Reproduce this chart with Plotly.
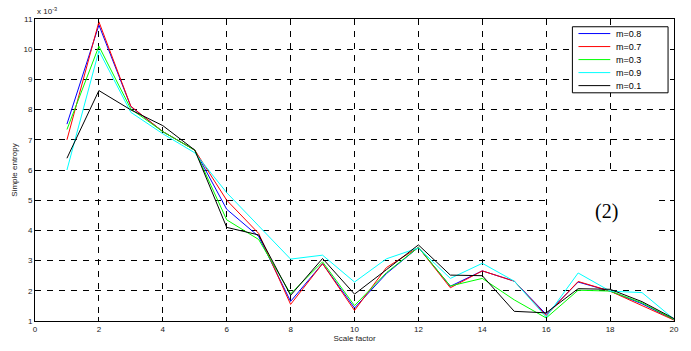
import plotly.graph_objects as go

scale = list(range(1, 21))
m08 = [7.52, 10.80, 8.10, 7.27, 6.66, 4.70, 3.80, 1.65, 2.90, 1.43, 2.57, 3.44, 2.15, 2.66, 2.32, 1.22, 2.29, 1.99, 1.57, 1.04]
m07 = [7.00, 10.91, 8.11, 7.27, 6.66, 5.00, 3.90, 1.55, 2.90, 1.35, 2.77, 3.44, 2.10, 2.66, 2.32, 1.18, 2.31, 1.99, 1.51, 1.03]
m03 = [7.34, 10.10, 8.02, 7.27, 6.66, 4.35, 3.70, 1.90, 2.96, 1.51, 2.60, 3.44, 2.16, 2.41, 1.70, 1.10, 2.02, 1.99, 1.60, 1.05]
m09 = [6.00, 9.95, 7.91, 7.20, 6.57, 5.25, 4.15, 3.05, 3.18, 2.29, 3.06, 3.42, 2.41, 2.91, 2.32, 1.13, 2.59, 1.99, 1.94, 1.06]
m01 = [6.39, 8.63, 7.99, 7.47, 6.66, 4.10, 3.85, 1.85, 3.07, 1.89, 2.70, 3.52, 2.52, 2.50, 1.32, 1.27, 2.07, 2.05, 1.64, 1.08]

series = [("m=0.8", m08, "#0000ff"), ("m=0.7", m07, "#ff0000"), ("m=0.3", m03, "#00ff00"),
          ("m=0.9", m09, "#00ffff"), ("m=0.1", m01, "#000000")]

fig = go.Figure()
for name, vals, col in series:
    fig.add_trace(go.Scatter(x=scale, y=vals, mode="lines", name=name, showlegend=False,
                             line=dict(color=col, width=1)))

tickfont = dict(family="Liberation Sans, Arial", size=8, color="#222")
axis_common = dict(showline=True, linecolor="black", linewidth=1, mirror="allticks",
                   ticks="inside", ticklen=4, tickcolor="black",
                   showgrid=True, gridcolor="black", gridwidth=1, griddash="6px,6px",
                   zeroline=False, tickfont=tickfont)

fig.update_layout(
    width=691, height=351,
    margin=dict(l=35, r=14, t=19, b=21),
    paper_bgcolor="white", plot_bgcolor="white",
    showlegend=False,
    xaxis=dict(range=[0, 20], tickvals=list(range(0, 21, 2)),
               title=dict(text="Scale factor", standoff=0,
                          font=dict(family="Liberation Sans, Arial", size=8, color="#222")),
               **axis_common),
    yaxis=dict(range=[1, 11], tickvals=list(range(1, 12)),
               title=dict(text="Simple entropy", standoff=4,
                          font=dict(family="Liberation Sans, Arial", size=8, color="#222")),
               **axis_common),
)

# manual compact legend (MATLAB style)
fig.add_shape(type="rect", xref="paper", yref="paper", x0=0.841, x1=0.9907, y0=0.7556, y1=0.9743,
              line=dict(color="black", width=1), fillcolor="white", layer="above")
row_top = 0.9518
row_step = 0.0431
for i, (name, vals, col) in enumerate(series):
    yy = row_top - i * row_step
    fig.add_shape(type="line", xref="paper", yref="paper", x0=0.8505, x1=0.9003, y0=yy, y1=yy,
                  line=dict(color=col, width=1), layer="above")
    fig.add_annotation(xref="paper", yref="paper", x=0.9065, y=yy, xanchor="left", yanchor="middle",
                       text=name, showarrow=False,
                       font=dict(family="Liberation Sans, Arial", size=9, color="black"))

# white patch behind the "(2)" label (grid is hidden there in the reference)
fig.add_shape(type="rect", xref="paper", yref="paper", x0=0.8037, x1=0.9766, y0=0.2701, y1=0.492,
              line=dict(width=0), fillcolor="white", layer="above")

fig.add_annotation(xref="paper", yref="paper", x=0.0, y=1.0, xanchor="left", yanchor="bottom",
                   text="x 10<sup>-3</sup>", showarrow=False, yshift=1,
                   font=dict(family="Liberation Sans, Arial", size=8, color="#222"))
fig.add_annotation(xref="x", yref="y", x=17.9, y=4.62, text="(2)", showarrow=False,
                   font=dict(family="Liberation Serif, Times New Roman", size=20, color="black"))

fig.write_html("out.html")
